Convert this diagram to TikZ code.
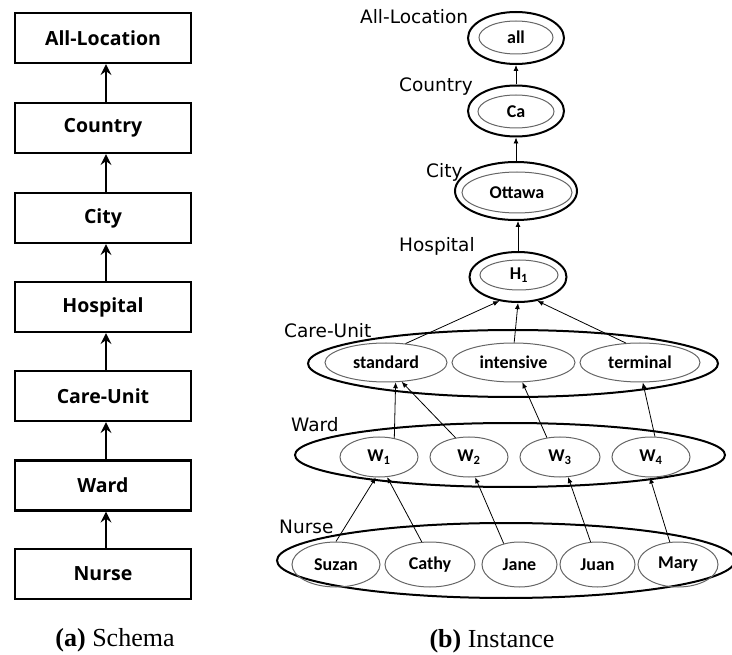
\documentclass[tikz,border=0pt]{standalone}
\usepackage{fontspec}
\setmainfont{Liberation Serif}
\newfontfamily\boxfont{Open Sans}
\newfontfamily\levelfont{DejaVu Sans}
\newfontfamily\itemfont{Carlito}
\usetikzlibrary{shapes.geometric,arrows.meta}

\begin{document}
\begin{tikzpicture}[x=1pt,y=-1pt,
  schemabox/.style={draw, line width=2.2pt, minimum width=176pt, minimum height=50pt,
    inner sep=0pt, font=\boxfont\bfseries\fontsize{19.5}{24}\selectfont},
  schemaarrow/.style={line width=2.2pt, -{Stealth[length=11pt,width=11pt,inset=4pt]}},
  group/.style={ellipse, draw, line width=2pt, inner sep=0pt},
  member/.style={ellipse, draw=black!60, line width=1pt, inner sep=0pt,
    font=\itemfont\bfseries\fontsize{18}{21}\selectfont},
  level/.style={anchor=west, inner sep=0pt, font=\levelfont\fontsize{18.5}{22}\selectfont},
  link/.style={line width=0.8pt, -{Latex[length=6pt,width=5pt]}},
  caption/.style={font=\fontsize{26}{30}\selectfont},
]
\useasboundingbox (0,0) rectangle (732,655);

% ---------- (a) schema: one box per level ----------
\node[schemabox] (sAll)  at (103,38)    {All-Location};
\node[schemabox] (sCtry) at (103,128)   {Country};
\node[schemabox] (sCity) at (103,218)   {City};
\node[schemabox] (sHosp) at (103,307)   {Hospital};
\node[schemabox] (sCare) at (103,396)   {Care-Unit};
\node[schemabox] (sWard) at (103,485.5) {Ward};
\node[schemabox] (sNurs) at (103,574)   {Nurse};

\foreach \lo/\hi in {sNurs/sWard, sWard/sCare, sCare/sHosp, sHosp/sCity, sCity/sCtry, sCtry/sAll}
  \draw[schemaarrow] ([xshift=3pt]\lo.north) -- ([xshift=3pt]\hi.south);

\node[caption] (capA) at (115,640) {\textbf{(a)} Schema};

% ---------- (b) instance: level groups with their members ----------
\node[group, minimum width=96pt,  minimum height=52pt] (gAll)  at (516,38)    {};
\node[group, minimum width=96pt,  minimum height=51pt] (gCtry) at (516,111)   {};
\node[group, minimum width=122pt, minimum height=58pt] (gCity) at (516,191)   {};
\node[group, minimum width=97pt,  minimum height=50pt] (gHosp) at (518,277)   {};
\node[group, minimum width=410pt, minimum height=67pt] (gCare) at (513,363.5) {};
\node[group, minimum width=430pt, minimum height=64pt] (gWard) at (510,455)   {};
\node[group, minimum width=458pt, minimum height=75pt] (gNurs) at (506,560.5) {};

\node[member, minimum width=74pt,  minimum height=33pt] (all)    at (516,37.5)  {all};
\node[member, minimum width=76pt,  minimum height=33pt] (ca)     at (516,111.5) {Ca};
\node[member, minimum width=110pt, minimum height=41pt] (ottawa) at (517,192.5) {Ottawa};
\node[member, minimum width=78pt,  minimum height=30pt] (h1)     at (519,275)   {H\textsubscript{1}};

\node[member, minimum width=122pt, minimum height=39pt] (standard)  at (386,362.5)   {standard};
\node[member, minimum width=123pt, minimum height=39pt] (intensive) at (513.5,362.5) {intensive};
\node[member, minimum width=120pt, minimum height=39pt] (terminal)  at (640,362.5)   {terminal};

\node[member, minimum width=78pt, minimum height=40pt] (w1) at (379,457) {W\textsubscript{1}};
\node[member, minimum width=78pt, minimum height=40pt] (w2) at (469,457) {W\textsubscript{2}};
\node[member, minimum width=80pt, minimum height=40pt] (w3) at (560,457) {W\textsubscript{3}};
\node[member, minimum width=78pt, minimum height=40pt] (w4) at (651,457) {W\textsubscript{4}};

\node[member, minimum width=88pt, minimum height=45pt] (suzan) at (336,564.5)   {Suzan};
\node[member, minimum width=90pt, minimum height=45pt] (cathy) at (430,564.5)   {Cathy};
\node[member, minimum width=75pt, minimum height=45pt] (jane)  at (519.5,564.5) {Jane};
\node[member, minimum width=75pt, minimum height=45pt] (juan)  at (597.5,564.5) {Juan};
\node[member, minimum width=80pt, minimum height=45pt] (mary)  at (678,564.5)   {Mary};

% level names
\node[level] (lAll)  at (360,17)  {All-Location};
\node[level] (lCtry) at (399,87)  {Country};
\node[level] (lCity) at (426,172) {City};
\node[level] (lHosp) at (399,246) {Hospital};
\node[level] (lCare) at (284,331) {Care-Unit};
\node[level] (lWard) at (291,425) {Ward};
\node[level] (lNurs) at (279,527) {Nurse};

% roll-up links between members
\draw[link] (gCtry.north) -- (gAll.south);
\draw[link] (gCity.north) -- (gCtry.south);
\draw[link] (gHosp.north) -- (gHosp.north |- gCity.south);

\draw[link] (standard.44)  -- (gHosp.232);
\draw[link] (intensive.88) -- (gHosp.south);
\draw[link] (terminal.126) -- (gHosp.309);

\draw[link] (w1.51)  -- (standard.296);
\draw[link] (w2.125) -- (standard.309);
\draw[link] (w3.124) -- (intensive.294);
\draw[link] (w4.79)  -- (terminal.278);

\draw[link] (suzan.north) -- (w1.261);
\draw[link] (cathy.110)   -- (w1.292);
\draw[link] (jane.127)    -- (w2.287);
\draw[link] (juan.107)    -- (w3.292);
\draw[link] (mary.110)    -- (w4.267);

\node[caption] (capB) at (492,641) {\textbf{(b)} Instance};
\end{tikzpicture}
\end{document}
